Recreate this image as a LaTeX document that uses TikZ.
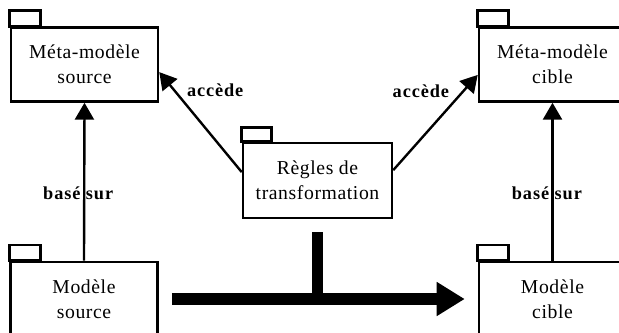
\documentclass[tikz,border=0pt]{standalone}
\usepackage{fontspec}
\setmainfont{Liberation Serif}
\newfontfamily\pkgfont[LetterSpace=3]{Liberation Serif}
\newfontfamily\lblfont[LetterSpace=5]{Liberation Serif}
\usetikzlibrary{arrows.meta,calc}

\begin{document}
\begin{tikzpicture}[
    >={Triangle[length=12pt,width=13.5pt]},
    pkg/.style={draw, line width=1.8pt, minimum width=3.675cm,
                minimum height=1.85cm, inner sep=0pt, align=center,
                font=\pkgfont\fontsize{14}{17.7}\selectfont},
    tab/.style={draw, line width=1.8pt},
    arrow/.style={->, line width=1.7pt},
    lbl/.style={font=\lblfont\bfseries\fontsize{13}{15}\selectfont},
    bigarrow/.style={line width=8.5pt, -{Triangle[length=20pt,width=23pt]}},
  ]

  % frame of the picture (boxes on the right and bottom are cut by it)
  \useasboundingbox (0,0) rectangle (15.475,-8.3);
  \clip (0,0) rectangle (15.475,-8.3);

  % -- Row 0: meta-models --
  \node[pkg] at (2.1125,-1.6125) (metasrc) {Méta-modèle\\source};
  \draw[tab] (metasrc.north west) rectangle ++(0.775,0.39);
  \node[pkg] at (13.8125,-1.6125) (metacible) {Méta-modèle\\cible};
  \draw[tab] (metacible.north west) rectangle ++(0.775,0.39);

  % -- Row 1: transformation rules --
  \node[pkg, minimum width=3.725cm, minimum height=1.875cm]
    at (7.9375,-4.5125) (regles) {Règles de\\transformation};
  \draw[tab] (regles.north west) rectangle ++(0.75,0.36);

  % -- Row 2: models --
  \node[pkg] at (2.1,-7.475) (modsrc) {Modèle\\source};
  \draw[tab] (modsrc.north west) rectangle ++(0.775,0.39);
  \node[pkg] at (13.8125,-7.475) (modcible) {Modèle\\cible};
  \draw[tab] (modcible.north west) rectangle ++(0.775,0.39);

  % -- model -> meta-model --
  \draw[arrow] (modsrc.north) -- node[lbl, pos=0.43, xshift=-0.15cm]
    {basé sur} (metasrc.south);
  \draw[arrow] (modcible.north) -- node[lbl, pos=0.43, xshift=-0.14cm]
    {basé sur} (metacible.south);

  % -- rules -> meta-models --
  \draw[arrow] ([yshift=0.21cm]regles.west) -- node[lbl, pos=0.82, right=5pt]
    {accède} ([yshift=-0.19cm]metasrc.east);
  \draw[arrow] ([yshift=0.26cm]regles.east) -- node[lbl, pos=0.83, left=6pt]
    {accède} ([yshift=-0.26cm]metacible.west);

  % -- transformation: source model -> target model --
  \draw[bigarrow, shorten <=0.325cm, shorten >=0.325cm]
    (modsrc.east) -- (modcible.west);
  \draw[line width=7.8pt] ([yshift=-0.325cm]regles.south)
    -- (regles.south |- modsrc.east);

\end{tikzpicture}
\end{document}
